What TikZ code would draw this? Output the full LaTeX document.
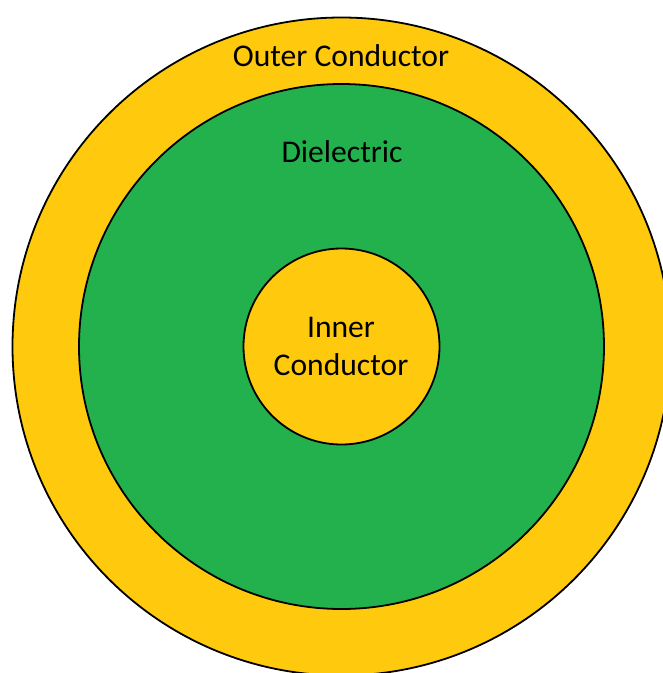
\documentclass[tikz,border=0pt]{standalone}
\usepackage{fontspec}
\setmainfont{Carlito}
\definecolor{condyellow}{HTML}{FFC90E}
\definecolor{dielgreen}{HTML}{22B14C}
\begin{document}
\begin{tikzpicture}[x=1pt,y=-1pt,
  layer/.style={draw=black,line width=1.8pt},
  lbl/.style={font=\fontsize{31.6}{38}\selectfont,text=black,anchor=base,inner sep=0pt}]
\useasboundingbox (0,0) rectangle (663,673);
\clip (0,0) rectangle (663,673);
\fill[white] (0,0) rectangle (663,673);
\coordinate (c) at (341.5,346.5);
\path[layer,fill=condyellow] (c) circle[radius=329];
\path[layer,fill=dielgreen] (c) circle[radius=262.5];
\path[layer,fill=condyellow] (c) circle[radius=98];
\node[lbl] (outer) at (341,66) {Outer Conductor};
\node[lbl] (diel) at (342,162) {Dielectric};
\node[lbl] (inner1) at (341,337) {Inner};
\node[lbl] (inner2) at (341,375) {Conductor};
\end{tikzpicture}
\end{document}
